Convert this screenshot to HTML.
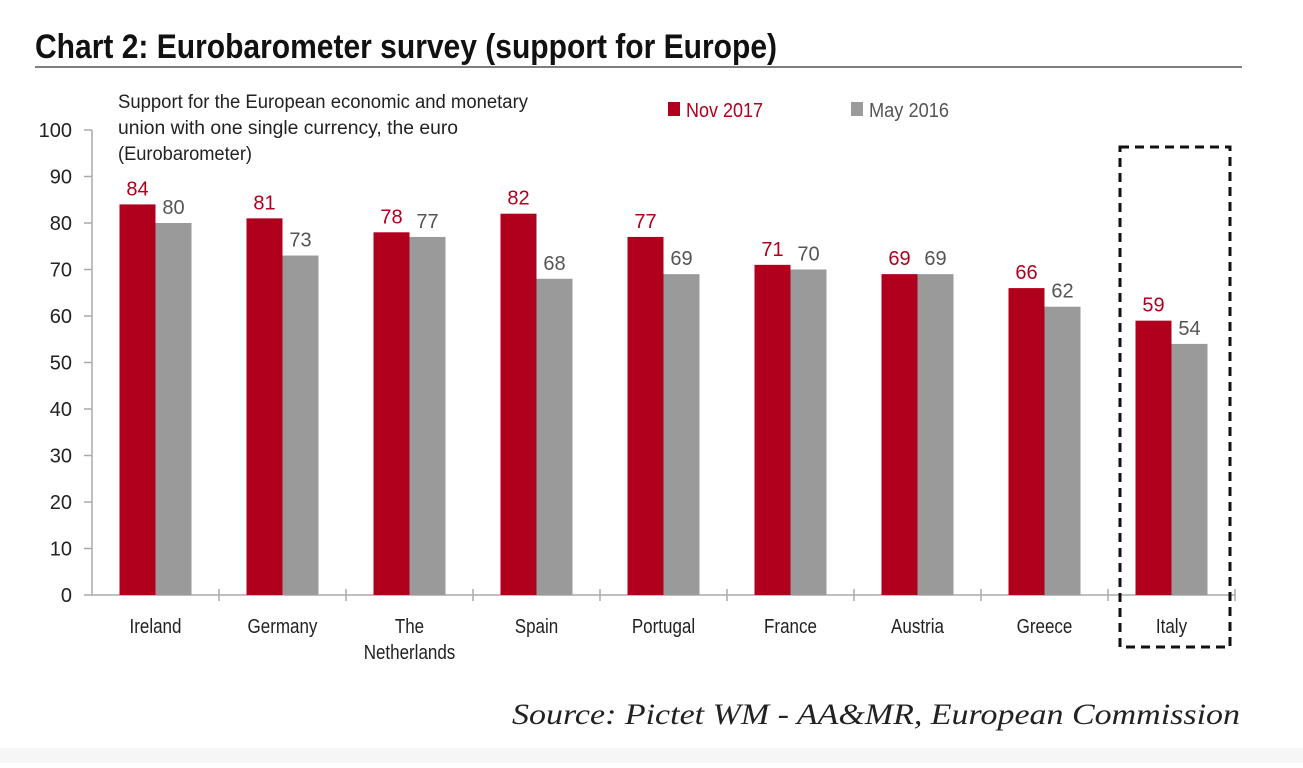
<!DOCTYPE html>
<html><head><meta charset="utf-8"><style>
body{margin:0;background:#fff;width:1303px;height:763px;overflow:hidden;position:relative;font-family:"Liberation Sans Narrow","Liberation Sans",sans-serif}
svg text{font-family:"Liberation Sans Narrow","Liberation Sans",sans-serif}
</style></head><body>
<svg width="1303" height="763">
<rect x="0" y="748" width="1303" height="15" fill="#f6f6f6"/>
<text x="35" y="58" font-size="34" font-weight="bold" fill="#111" textLength="742" lengthAdjust="spacingAndGlyphs">Chart 2: Eurobarometer survey (support for Europe)</text>
<line x1="35" y1="67" x2="1242" y2="67" stroke="#555" stroke-width="1.5"/>
<g font-size="19" fill="#222">
<text x="118" y="108" textLength="410" lengthAdjust="spacingAndGlyphs">Support for the European economic and monetary</text>
<text x="118" y="134" textLength="340" lengthAdjust="spacingAndGlyphs">union with one single currency, the euro</text>
<text x="118" y="160" textLength="134" lengthAdjust="spacingAndGlyphs">(Eurobarometer)</text></g>
<rect x="668" y="102" width="12" height="14" fill="#b0001e"/>
<text x="686" y="117" font-size="20" fill="#b0001e" textLength="77" lengthAdjust="spacingAndGlyphs">Nov 2017</text>
<rect x="851" y="102" width="12" height="14" fill="#9a9a9a"/>
<text x="869" y="117" font-size="20" fill="#555" textLength="80" lengthAdjust="spacingAndGlyphs">May 2016</text>
<g id="plot"></g>
<rect x="1120" y="147" width="110" height="500" fill="none" stroke="#111" stroke-width="3" stroke-dasharray="9,6"/>
<text x="1240" y="724" text-anchor="end" font-style="italic" font-size="30" fill="#222" textLength="728" lengthAdjust="spacingAndGlyphs" style="font-family:'Liberation Serif',serif">Source: Pictet WM - AA&amp;MR, European Commission</text>
</svg>
<script>
const categories=["Ireland","Germany","The|Netherlands","Spain","Portugal","France","Austria","Greece","Italy"];
const nov2017=[84,81,78,82,77,71,69,66,59];
const may2016=[80,73,77,68,69,70,69,62,54];
const yTicks=[0,10,20,30,40,50,60,70,80,90,100];
const NS="http://www.w3.org/2000/svg";
const g=document.getElementById('plot');
const x0=92,cw=127,bw=36;
const y=v=>595-v*4.65;
const cx=i=>x0+cw*(i+0.5);
function mk(t,a,txt){const e=document.createElementNS(NS,t);for(const k in a)e.setAttribute(k,a[k]);if(txt!=null)e.textContent=txt;g.appendChild(e);return e;}
let e=mk('line',{x1:x0,y1:y(100),x2:x0,y2:595,stroke:'#aaa','stroke-width':1.5});


yTicks.forEach(t=>{
 let l=mk('line',{x1:x0-8,y1:y(t),x2:x0,y2:y(t),stroke:'#aaa','stroke-width':1.5});
 
 
 let s=mk('text',{x:72,y:y(t)+7,'text-anchor':'end','font-size':20,fill:'#222'},t);
 
 
});
e=mk('line',{x1:x0,y1:595,x2:x0+cw*categories.length,y2:595,stroke:'#aaa','stroke-width':1.5});


categories.forEach((c,i)=>{
 let tk=mk('line',{x1:x0+cw*(i+1),y1:589,x2:x0+cw*(i+1),y2:601,stroke:'#aaa','stroke-width':1.5});
 
 
 const c0=cx(i);
 let r=mk('rect',{x:c0-bw,y:y(nov2017[i]),width:bw,height:595-y(nov2017[i]),fill:'#b0001e'});
 
 
 let r2=mk('rect',{x:c0,y:y(may2016[i]),width:bw,height:595-y(may2016[i]),fill:'#9a9a9a'});
 
 
 let v1=mk('text',{x:c0-bw/2,y:y(nov2017[i])-9,'text-anchor':'middle','font-size':20,fill:'#b0001e'},nov2017[i]);
 
 
 let v2=mk('text',{x:c0+bw/2,y:y(may2016[i])-9,'text-anchor':'middle','font-size':20,fill:'#555'},may2016[i]);
 
 
 c.split('|').forEach((ln,j)=>{
  let t=mk('text',{x:c0,y:633+j*26,'text-anchor':'middle','font-size':20,fill:'#222',transform:`translate(${c0} 0) scale(0.85 1) translate(${-c0} 0)`},ln);
  
  
 });
});
</script>
</body></html>
